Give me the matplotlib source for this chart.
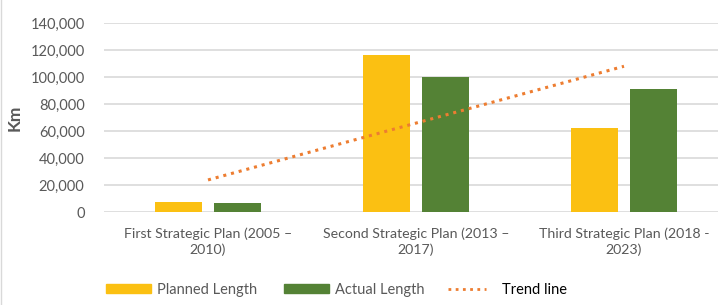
import numpy as np
import matplotlib
matplotlib.use("Agg")
import matplotlib.pyplot as plt
from matplotlib.patches import Patch
from matplotlib.lines import Line2D

# datos
planes = ["First Strategic Plan (2005 –\n2010)",
          "Second Strategic Plan (2013 –\n2017)",
          "Third Strategic Plan (2018 -\n2023)"]
planned_length = [7400, 116300, 62200]
actual_length = [6900, 100200, 91100]

# colores
AMARILLO = "#FBC012"
VERDE = "#548235"
NARANJA = "#ED7D31"
GRIS = "#595959"

plt.rcParams["font.family"] = ["Lato", "DejaVu Sans"]

fig = plt.figure(figsize=(7.18, 3.05), dpi=100)
ax = fig.add_axes([104 / 718, 0.304, 614 / 718, 0.6196])

x = np.arange(len(planes))
ancho = 0.226
ax.bar(x - 0.142, planned_length, ancho, color=AMARILLO, zorder=3)
ax.bar(x + 0.142, actual_length, ancho, color=VERDE, zorder=3)

# linea de tendencia (ajuste lineal sobre la longitud real)
coef = np.polyfit(x, actual_length, 1)
ax.plot(x, np.polyval(coef, x), color=NARANJA, linestyle=(0, (1, 1.6)),
        linewidth=2.2, zorder=4)

ax.set_xlim(-0.5, -0.5 + 614 / 208)
ax.set_ylim(0, 140000)
ax.set_yticks(np.arange(0, 140001, 20000))
ax.yaxis.set_major_formatter(matplotlib.ticker.FuncFormatter(lambda v, p: f"{int(v):,}"))
ax.set_xticks(x)
ax.set_xticklabels(planes, linespacing=1.3)
ax.grid(axis="y", color="#D9D9D9", linewidth=1.2, zorder=0)
for s in ax.spines.values():
    s.set_visible(False)
ax.tick_params(axis="both", length=0, labelsize=10.5, colors=GRIS)
ax.tick_params(axis="x", labelsize=10.2, pad=11)
ax.tick_params(axis="y", pad=14)
ax.set_ylabel("Km", fontsize=12.5, fontweight="bold", color=GRIS)
ax.yaxis.set_label_coords(-0.132, 0.5)

# leyenda
ly = 1 - 290 / 305
kw = dict(frameon=False, fontsize=10.5, handleheight=0.55, handletextpad=0.4,
          borderpad=0, borderaxespad=0)
l1 = fig.legend(handles=[Patch(color=AMARILLO)], labels=["Planned Length"],
                loc="center left", bbox_to_anchor=(106 / 718, ly),
                handlelength=3.1, **kw)
l2 = fig.legend(handles=[Patch(color=VERDE)], labels=["Actual Length"],
                loc="center left", bbox_to_anchor=(284 / 718, ly),
                handlelength=3.1, **kw)
l3 = fig.legend(handles=[Line2D([], [], color=NARANJA, linestyle=(0, (1, 1.6)), linewidth=2)],
                labels=["Trend line"], loc="center left",
                bbox_to_anchor=(448 / 718, ly), handlelength=2.6,
                **dict(kw, handletextpad=1.1))
for leg in (l1, l2):
    for t in leg.get_texts():
        t.set_color(GRIS)
for t in l3.get_texts():
    t.set_color("black")

# borde izquierdo del grafico
fig.add_artist(Line2D([0.001, 0.001], [0, 1], color="#D9D9D9", linewidth=1))

fig.savefig("out.png", dpi=100)
